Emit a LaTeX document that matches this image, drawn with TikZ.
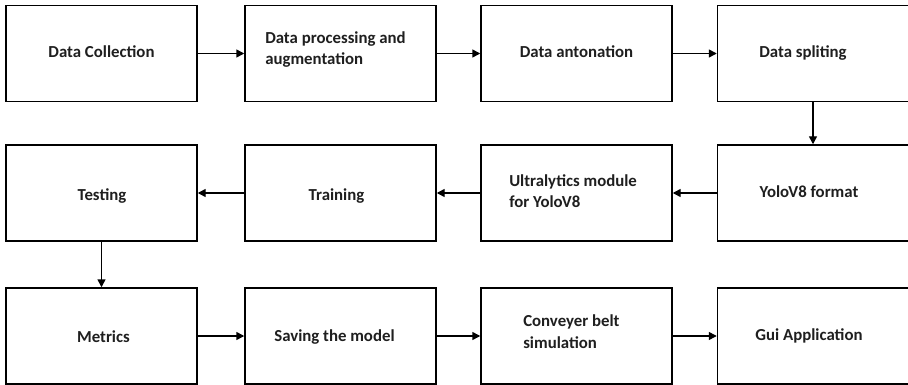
\documentclass[tikz,border=0pt]{standalone}
\usepackage{fontspec}
\setmainfont{Carlito}
\usetikzlibrary{arrows.meta}
\begin{document}
\begin{tikzpicture}[x=0.75pt,y=-0.75pt,
  stepbox/.style={draw=black,line width=1.1pt,minimum width=143.25pt,minimum height=72pt,inner sep=0pt,fill=white},
  lbl/.style={font=\bfseries\fontsize{12.6pt}{16.5pt}\selectfont,inner sep=0pt,text=black!88},
  lblml/.style={lbl,align=left,anchor=base west},
  flow/.style={draw=black,line width=1.1pt,-{Triangle[length=6pt,width=6pt]}}]
  \useasboundingbox (0,0) rectangle (908,385);
  % row 1
  \node[stepbox] (b1) at (101.5,53.5) {};
  \node[stepbox] (b2) at (340.5,53.5) {};
  \node[stepbox] (b3) at (576.5,53.5) {};
  \node[stepbox] (b4) at (813,53.5) {};
  % row 2
  \node[stepbox] (b5) at (813,193) {};
  \node[stepbox] (b6) at (576.5,193) {};
  \node[stepbox] (b7) at (340.5,193) {};
  \node[stepbox] (b8) at (101.5,193) {};
  % row 3
  \node[stepbox] (b9) at (101.5,336) {};
  \node[stepbox] (b10) at (340.5,336) {};
  \node[stepbox] (b11) at (576.5,336) {};
  \node[stepbox] (b12) at (813,336) {};
  % labels (two-line labels are anchored at the baseline of their last line)
  \node[lbl,anchor=base] (t1) at (101.5,58) {Data Collection};
  \node[lblml] (t2) at (265,65) {Data processing and\\augmentation};
  \node[lbl,anchor=base] (t3) at (576.5,58) {Data antonation};
  \node[lbl,anchor=base] (t4) at (803,58) {Data spliting};
  \node[lbl,anchor=base] (t5) at (809,198) {YoloV8 format};
  \node[lblml] (t6) at (509,208) {Ultralytics module\\for YoloV8};
  \node[lbl,anchor=base] (t7) at (336.5,200) {Training};
  \node[lbl,anchor=base] (t8) at (102,200) {Testing};
  \node[lbl,anchor=base] (t9) at (103.5,342) {Metrics};
  \node[lbl,anchor=base] (t10) at (334.5,341) {Saving the model};
  \node[lblml] (t11) at (523,348) {Conveyer belt\\simulation};
  \node[lbl,anchor=base] (t12) at (809,340) {Gui Application};
  % connectors
  \draw[flow] (b1) -- (b2);
  \draw[flow] (b2) -- (b3);
  \draw[flow] (b3) -- (b4);
  \draw[flow] (b4) -- (b5);
  \draw[flow] (b5) -- (b6);
  \draw[flow] (b6) -- (b7);
  \draw[flow] (b7) -- (b8);
  \draw[flow] (b8) -- (b9);
  \draw[flow] (b9) -- (b10);
  \draw[flow] (b10) -- (b11);
  \draw[flow] (b11) -- (b12);
\end{tikzpicture}
\end{document}
